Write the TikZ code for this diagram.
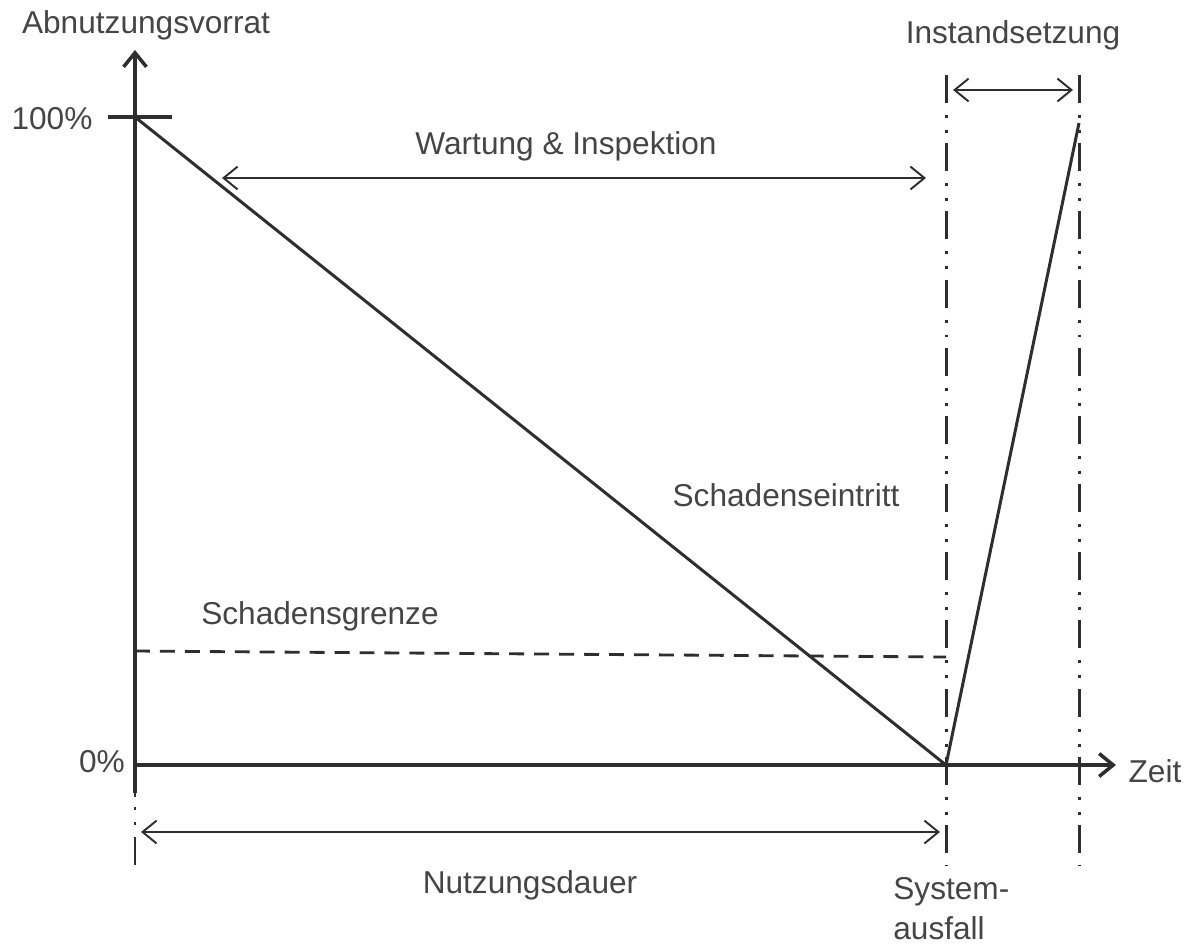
\documentclass[tikz,border=0pt]{standalone}
\usepackage{fontspec}
\setmainfont{Liberation Sans}
\usetikzlibrary{arrows.meta}
\definecolor{ink}{HTML}{2E2E2E}
\definecolor{txt}{HTML}{454545}
\begin{document}
\begin{tikzpicture}[x=0.02cm, y=-0.02cm,
    >={Straight Barb[length=8pt,width=13pt]},
    axis/.style={draw=ink, line width=2pt},
    curve/.style={draw=ink, line width=1.7pt},
    span/.style={draw=ink, line width=1.1pt, <->},
    guide/.style={draw=ink, line width=1.7pt, dash pattern=on 16pt off 6.8pt on 1.7pt off 6.8pt on 1.7pt off 5.8pt},
    limit/.style={draw=ink, line width=1.6pt, dash pattern=on 8.5pt off 5.7pt},
    lbl/.style={text=txt, font=\fontsize{18}{22.8}\selectfont, inner sep=0pt}]
    \useasboundingbox (0,0) rectangle (1193,948);

    \coordinate (origin) at (135,765);
    \coordinate (full) at (135,117);
    \coordinate (fail) at (946,765);
    \coordinate (repaired) at (1079,123);

    \draw[guide] (135,865) -- (135,765);
    \draw[guide] (946,75) -- (946,866);
    \draw[guide] (1079,75) -- (1079,866);

    \draw[axis, ->] (135,793) -- (135,50);
    \draw[axis, ->] (origin) -- (1116,765);
    \draw[axis] (108,117) -- (172,117);

    \draw[limit] (135,651) -- (946,657);

    \draw[curve] (full) -- (fail) -- (repaired);

    \draw[span] (222,178) -- (926,178);
    \draw[span] (953,90) -- (1073,90);
    \draw[span] (141,832) -- (940,832);

    \node[lbl] (vorrat) at (146,25) {Abnutzungsvorrat};
    \node[lbl] (hundert) at (52,119) {100\%};
    \node[lbl] (null) at (102,762) {0\%};
    \node[lbl] (instand) at (1013,35) {Instandsetzung};
    \node[lbl] (wartung) at (566,146) {Wartung \& Inspektion};
    \node[lbl] (eintritt) at (786,495) {Schadenseintritt};
    \node[lbl] (grenze) at (320,616) {Schadensgrenze};
    \node[lbl] (dauer) at (530,885) {Nutzungsdauer};
    \node[lbl, anchor=north west, align=left] (ausfall) at (893,877) {System-\\ausfall};
    \node[lbl] (zeit) at (1155,771) {Zeit};
\end{tikzpicture}
\end{document}
